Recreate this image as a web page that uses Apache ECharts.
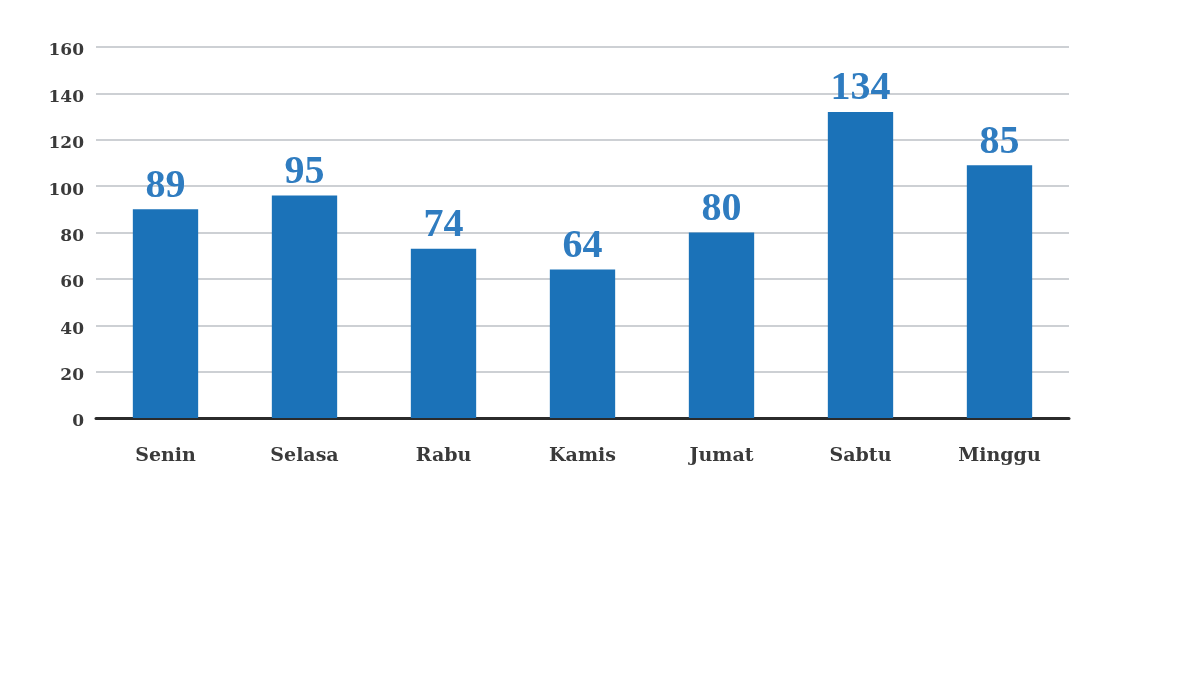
<!DOCTYPE html>
<html><head><meta charset="utf-8">
<script src="https://cdn.jsdelivr.net/npm/echarts@6/dist/echarts.min.js"></script>
<style>html,body{margin:0;padding:0;background:#fff}#c{width:1200px;height:675px}</style>
</head><body><div id="c"></div>
<script>
const categories = ['Senin','Selasa','Rabu','Kamis','Jumat','Sabtu','Minggu'];
const barValues = [90, 96, 73, 64, 80, 132, 109];
const labelTexts = ['89','95','74','64','80','134','85'];
const yTicks = [0,20,40,60,80,100,120,140,160];

const chart = echarts.init(document.getElementById('c'));
const serif = '"DejaVu Serif", "Liberation Serif", serif';
chart.setOption({
  backgroundColor: '#fff',
  animation: false,
  grid: {left: 96, right: 131, top: 47, bottom: 257, containLabel: false},
  xAxis: {
    type: 'category', data: categories,
    axisLine: {lineStyle: {color: '#2b2b2b', width: 3}},
    axisTick: {show: false},
    axisLabel: {color: '#3a3a3a', fontFamily: serif, fontWeight: 'bold', fontSize: 19, margin: 29}
  },
  yAxis: {
    type: 'value', min: yTicks[0], max: yTicks[yTicks.length-1], interval: 20,
    axisLine: {show: false}, axisTick: {show: false},
    splitLine: {lineStyle: {color: '#cdd0d4', width: 2}},
    axisLabel: {color: '#3a3a3a', fontFamily: serif, fontWeight: 'bold', fontSize: 17, margin: 12,
      verticalAlign: 'top', lineHeight: 8}
  },
  series: [{
    type: 'bar', data: barValues, barWidth: '47%',
    itemStyle: {color: '#1b72b8'},
    label: {
      show: true, position: 'top', distance: 3,
      formatter: p => labelTexts[p.dataIndex],
      color: '#2f7cc0', fontFamily: '"Liberation Serif", serif', fontWeight: 'bold', fontSize: 40
    }
  }]
});
</script></body></html>
